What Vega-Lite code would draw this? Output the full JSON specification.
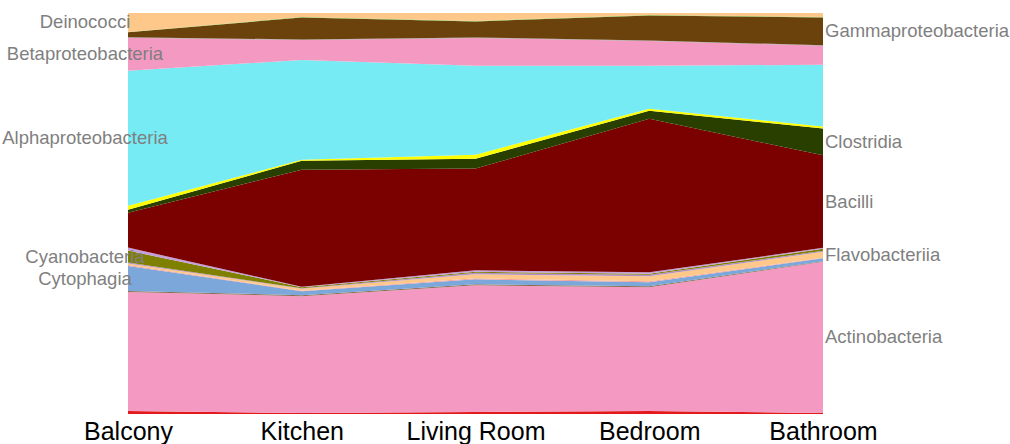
{
  "$schema": "https://vega.github.io/schema/vega-lite/v6.json",
  "autosize": {"type": "none"},
  "width": 695,
  "height": 401,
  "padding": {"left": 128, "top": 13, "right": 187, "bottom": 30},
  "config": {"view": {"stroke": null}, "font": "Liberation Sans"},
  "data": {"values": [
    {"location": "Balcony", "class": "Unclassified", "rank": 1, "value": 3},
    {"location": "Balcony", "class": "Actinobacteria", "rank": 2, "value": 119},
    {"location": "Balcony", "class": "Deltaproteobacteria", "rank": 3, "value": 1},
    {"location": "Balcony", "class": "Cytophagia", "rank": 4, "value": 25},
    {"location": "Balcony", "class": "Sphingobacteriia", "rank": 5, "value": 1},
    {"location": "Balcony", "class": "Flavobacteriia", "rank": 6, "value": 1.5},
    {"location": "Balcony", "class": "Bacteroidia", "rank": 7, "value": 1},
    {"location": "Balcony", "class": "Cyanobacteria", "rank": 8, "value": 12},
    {"location": "Balcony", "class": "Erysipelotrichi", "rank": 9, "value": 3},
    {"location": "Balcony", "class": "Bacilli", "rank": 10, "value": 35},
    {"location": "Balcony", "class": "Clostridia", "rank": 11, "value": 3},
    {"location": "Balcony", "class": "Negativicutes", "rank": 12, "value": 4},
    {"location": "Balcony", "class": "Alphaproteobacteria", "rank": 13, "value": 135},
    {"location": "Balcony", "class": "Betaproteobacteria", "rank": 14, "value": 33},
    {"location": "Balcony", "class": "Acidobacteria", "rank": 15, "value": 0.5},
    {"location": "Balcony", "class": "Gammaproteobacteria", "rank": 16, "value": 5},
    {"location": "Balcony", "class": "Thermoleophilia", "rank": 17, "value": 0.3},
    {"location": "Balcony", "class": "Deinococci", "rank": 18, "value": 19},

    {"location": "Kitchen", "class": "Unclassified", "rank": 1, "value": 1},
    {"location": "Kitchen", "class": "Actinobacteria", "rank": 2, "value": 117},
    {"location": "Kitchen", "class": "Deltaproteobacteria", "rank": 3, "value": 1},
    {"location": "Kitchen", "class": "Cytophagia", "rank": 4, "value": 4},
    {"location": "Kitchen", "class": "Sphingobacteriia", "rank": 5, "value": 0.5},
    {"location": "Kitchen", "class": "Flavobacteriia", "rank": 6, "value": 2},
    {"location": "Kitchen", "class": "Bacteroidia", "rank": 7, "value": 0.5},
    {"location": "Kitchen", "class": "Cyanobacteria", "rank": 8, "value": 1},
    {"location": "Kitchen", "class": "Erysipelotrichi", "rank": 9, "value": 0.5},
    {"location": "Kitchen", "class": "Bacilli", "rank": 10, "value": 117},
    {"location": "Kitchen", "class": "Clostridia", "rank": 11, "value": 9},
    {"location": "Kitchen", "class": "Negativicutes", "rank": 12, "value": 1},
    {"location": "Kitchen", "class": "Alphaproteobacteria", "rank": 13, "value": 100},
    {"location": "Kitchen", "class": "Betaproteobacteria", "rank": 14, "value": 20},
    {"location": "Kitchen", "class": "Acidobacteria", "rank": 15, "value": 0.5},
    {"location": "Kitchen", "class": "Gammaproteobacteria", "rank": 16, "value": 22},
    {"location": "Kitchen", "class": "Thermoleophilia", "rank": 17, "value": 0.5},
    {"location": "Kitchen", "class": "Deinococci", "rank": 18, "value": 4},

    {"location": "Living Room", "class": "Unclassified", "rank": 1, "value": 2},
    {"location": "Living Room", "class": "Actinobacteria", "rank": 2, "value": 127},
    {"location": "Living Room", "class": "Deltaproteobacteria", "rank": 3, "value": 1},
    {"location": "Living Room", "class": "Cytophagia", "rank": 4, "value": 5},
    {"location": "Living Room", "class": "Sphingobacteriia", "rank": 5, "value": 1},
    {"location": "Living Room", "class": "Flavobacteriia", "rank": 6, "value": 4},
    {"location": "Living Room", "class": "Bacteroidia", "rank": 7, "value": 1.5},
    {"location": "Living Room", "class": "Cyanobacteria", "rank": 8, "value": 1},
    {"location": "Living Room", "class": "Erysipelotrichi", "rank": 9, "value": 1.5},
    {"location": "Living Room", "class": "Bacilli", "rank": 10, "value": 102},
    {"location": "Living Room", "class": "Clostridia", "rank": 11, "value": 10},
    {"location": "Living Room", "class": "Negativicutes", "rank": 12, "value": 4},
    {"location": "Living Room", "class": "Alphaproteobacteria", "rank": 13, "value": 89},
    {"location": "Living Room", "class": "Betaproteobacteria", "rank": 14, "value": 28},
    {"location": "Living Room", "class": "Acidobacteria", "rank": 15, "value": 0.5},
    {"location": "Living Room", "class": "Gammaproteobacteria", "rank": 16, "value": 16},
    {"location": "Living Room", "class": "Thermoleophilia", "rank": 17, "value": 0.5},
    {"location": "Living Room", "class": "Deinococci", "rank": 18, "value": 8},

    {"location": "Bedroom", "class": "Unclassified", "rank": 1, "value": 3},
    {"location": "Bedroom", "class": "Actinobacteria", "rank": 2, "value": 124},
    {"location": "Bedroom", "class": "Deltaproteobacteria", "rank": 3, "value": 1},
    {"location": "Bedroom", "class": "Cytophagia", "rank": 4, "value": 4},
    {"location": "Bedroom", "class": "Sphingobacteriia", "rank": 5, "value": 1},
    {"location": "Bedroom", "class": "Flavobacteriia", "rank": 6, "value": 5},
    {"location": "Bedroom", "class": "Bacteroidia", "rank": 7, "value": 1.5},
    {"location": "Bedroom", "class": "Cyanobacteria", "rank": 8, "value": 1},
    {"location": "Bedroom", "class": "Erysipelotrichi", "rank": 9, "value": 1.5},
    {"location": "Bedroom", "class": "Bacilli", "rank": 10, "value": 154},
    {"location": "Bedroom", "class": "Clostridia", "rank": 11, "value": 8},
    {"location": "Bedroom", "class": "Negativicutes", "rank": 12, "value": 2},
    {"location": "Bedroom", "class": "Alphaproteobacteria", "rank": 13, "value": 43},
    {"location": "Bedroom", "class": "Betaproteobacteria", "rank": 14, "value": 25},
    {"location": "Bedroom", "class": "Acidobacteria", "rank": 15, "value": 0.5},
    {"location": "Bedroom", "class": "Gammaproteobacteria", "rank": 16, "value": 25},
    {"location": "Bedroom", "class": "Thermoleophilia", "rank": 17, "value": 0.5},
    {"location": "Bedroom", "class": "Deinococci", "rank": 18, "value": 2},

    {"location": "Bathroom", "class": "Unclassified", "rank": 1, "value": 1},
    {"location": "Bathroom", "class": "Actinobacteria", "rank": 2, "value": 152},
    {"location": "Bathroom", "class": "Deltaproteobacteria", "rank": 3, "value": 0.5},
    {"location": "Bathroom", "class": "Cytophagia", "rank": 4, "value": 3},
    {"location": "Bathroom", "class": "Sphingobacteriia", "rank": 5, "value": 0.5},
    {"location": "Bathroom", "class": "Flavobacteriia", "rank": 6, "value": 6},
    {"location": "Bathroom", "class": "Bacteroidia", "rank": 7, "value": 1},
    {"location": "Bathroom", "class": "Cyanobacteria", "rank": 8, "value": 2},
    {"location": "Bathroom", "class": "Erysipelotrichi", "rank": 9, "value": 1},
    {"location": "Bathroom", "class": "Bacilli", "rank": 10, "value": 93},
    {"location": "Bathroom", "class": "Clostridia", "rank": 11, "value": 27},
    {"location": "Bathroom", "class": "Negativicutes", "rank": 12, "value": 2},
    {"location": "Bathroom", "class": "Alphaproteobacteria", "rank": 13, "value": 62},
    {"location": "Bathroom", "class": "Betaproteobacteria", "rank": 14, "value": 19},
    {"location": "Bathroom", "class": "Acidobacteria", "rank": 15, "value": 0.5},
    {"location": "Bathroom", "class": "Gammaproteobacteria", "rank": 16, "value": 28},
    {"location": "Bathroom", "class": "Thermoleophilia", "rank": 17, "value": 0.5},
    {"location": "Bathroom", "class": "Deinococci", "rank": 18, "value": 4}
  ]},
  "encoding": {
    "x": {
      "field": "location", "type": "ordinal",
      "sort": ["Balcony", "Kitchen", "Living Room", "Bedroom", "Bathroom"],
      "scale": {"padding": 0},
      "axis": {"title": null, "labelAngle": 0, "domain": false, "ticks": false,
               "labelFontSize": 25, "labelFont": "Liberation Sans", "labelColor": "#000000",
               "labelPadding": 5}
    }
  },
  "layer": [
    {
      "mark": {"type": "area", "interpolate": "linear"},
      "encoding": {
        "y": {"field": "value", "type": "quantitative", "stack": "normalize",
              "scale": {"domain": [0, 1], "nice": false}, "axis": null},
        "order": {"field": "rank", "type": "quantitative"},
        "color": {
          "field": "class", "type": "nominal", "legend": null,
          "scale": {
            "domain": ["Unclassified", "Actinobacteria", "Deltaproteobacteria", "Cytophagia", "Sphingobacteriia", "Flavobacteriia", "Bacteroidia", "Cyanobacteria", "Erysipelotrichi", "Bacilli", "Clostridia", "Negativicutes", "Alphaproteobacteria", "Betaproteobacteria", "Acidobacteria", "Gammaproteobacteria", "Thermoleophilia", "Deinococci"],
            "range": ["#e31a1c", "#f49ac2", "#8c6d4b", "#7ba7db", "#f0a0a0", "#fdc88a", "#b38fc7", "#808000", "#c49fd9", "#7b0000", "#283f00", "#ffff00", "#76ebf4", "#f49ac2", "#999999", "#6b420c", "#7fbf3f", "#fdc88a"]
          }
        }
      }
    },
    {
      "transform": [
        {"stack": "value", "groupby": ["location"], "sort": [{"field": "rank", "order": "ascending"}], "as": ["y0", "y1"], "offset": "normalize"},
        {"calculate": "(datum.y0 + datum.y1) / 2", "as": "mid"},
        {"filter": "datum.location == 'Balcony' && indexof(['Deinococci','Betaproteobacteria','Alphaproteobacteria','Cyanobacteria','Cytophagia'], datum['class']) >= 0"}
      ],
      "mark": {"type": "text", "align": "center", "baseline": "middle", "dx": -43, "fontSize": 18.5, "font": "Liberation Sans", "color": "#7f7f7f"},
      "encoding": {
        "y": {"field": "mid", "type": "quantitative"},
        "text": {"field": "class"}
      }
    },
    {
      "transform": [
        {"stack": "value", "groupby": ["location"], "sort": [{"field": "rank", "order": "ascending"}], "as": ["y0", "y1"], "offset": "normalize"},
        {"calculate": "(datum.y0 + datum.y1) / 2", "as": "mid"},
        {"filter": "datum.location == 'Bathroom' && indexof(['Gammaproteobacteria','Clostridia','Bacilli','Flavobacteriia','Actinobacteria'], datum['class']) >= 0"}
      ],
      "mark": {"type": "text", "align": "left", "baseline": "middle", "dx": 2, "fontSize": 18.5, "font": "Liberation Sans", "color": "#7f7f7f"},
      "encoding": {
        "y": {"field": "mid", "type": "quantitative"},
        "text": {"field": "class"}
      }
    }
  ]
}
